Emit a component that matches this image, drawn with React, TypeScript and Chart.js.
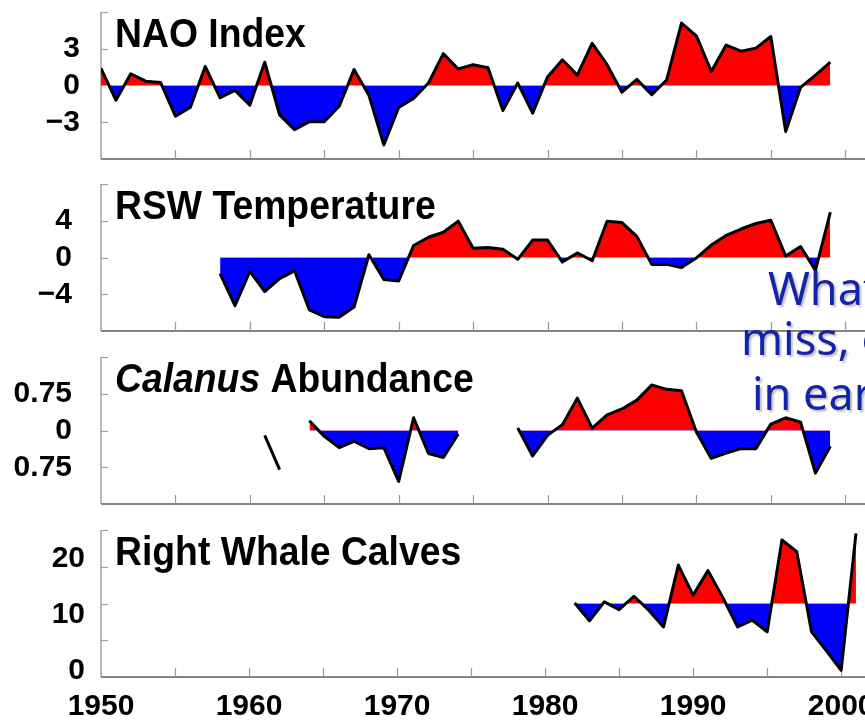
import React, { useEffect, useRef } from 'react';
import { Chart, registerables } from 'chart.js';

Chart.register(...registerables);

const _ = null;

const years = [
  1950, 1951, 1952, 1953, 1954, 1955, 1956, 1957, 1958, 1959,
  1960, 1961, 1962, 1963, 1964, 1965, 1966, 1967, 1968, 1969,
  1970, 1971, 1972, 1973, 1974, 1975, 1976, 1977, 1978, 1979,
  1980, 1981, 1982, 1983, 1984, 1985, 1986, 1987, 1988, 1989,
  1990, 1991, 1992, 1993, 1994, 1995, 1996, 1997, 1998, 1999,
  2000, 2001,
];

const naoValues = [
  1.4, -1.2, 0.95, 0.35, 0.25, -2.5, -1.8, 1.55, -1.0, -0.4,
  -1.6, 1.9, -2.4, -3.6, -2.95, -2.95, -1.7, 1.3, -0.8, -4.85,
  -1.8, -1.05, 0.2, 2.6, 1.35, 1.7, 1.45, -2.05, 0.2, -2.25,
  0.7, 2.1, 0.85, 3.45, 1.7, -0.55, 0.5, -0.75, 0.45, 5.1,
  4.05, 1.15, 3.3, 2.8, 3.05, 4.0, -3.75, -0.15, 0.85, 1.9,
  _, _,
];

const rswValues = [
  _, _, _, _, _, _, _, _, -1.75, -5.25,
  -1.5, -3.7, -2.3, -1.45, -5.7, -6.45, -6.5, -5.4, 0.3, -2.4,
  -2.55, 1.3, 2.2, 2.75, 3.95, 1.0, 1.1, 0.9, -0.2, 1.9,
  1.9, -0.5, 0.5, -0.35, 3.95, 3.8, 2.3, -0.75, -0.75, -1.1,
  -0.05, 1.35, 2.4, 3.1, 3.7, 4.05, 0.15, 1.2, -1.4, 4.95,
  _, _,
];

const calanusValues = [
  _, _, _, _, _, _, _, _, _, _,
  _, _, _, _, 0.2, -0.12, -0.35, -0.22, -0.37, -0.35,
  -1.04, 0.26, -0.47, -0.55, -0.07, _, _, _, 0.05, -0.52,
  -0.1, 0.12, 0.66, 0.05, 0.32, 0.44, 0.62, 0.93, 0.84, 0.81,
  -0.03, -0.57, -0.46, -0.37, -0.37, 0.13, 0.26, 0.17, -0.87, -0.32,
  _, _,
];

const calanusEarlyValues = [
  _, _, _, _, _, _, _, _, _, _,
  _, -0.1, -0.8, _, _, _, _, _, _, _,
  _, _, _, _, _, _, _, _, _, _,
  _, _, _, _, _, _, _, _, _, _,
  _, _, _, _, _, _, _, _, _, _,
  _, _,
];

const whaleValues = [
  _, _, _, _, _, _, _, _, _, _,
  _, _, _, _, _, _, _, _, _, _,
  _, _, _, _, _, _, _, _, _, _,
  _, _, 12.1, 8.9, 12.3, 10.9, 13.3, 10.8, 7.8, 18.9,
  13.5, 17.9, 13.1, 7.8, 9.0, 6.9, 23.4, 21.3, 6.9, 3.5,
  0, 24.6,
];

const xTickLabels = [1950, 1960, 1970, 1980, 1990, 2000];
const xTickMarks = [1955, 1960, 1965, 1970, 1975, 1980, 1985, 1990, 1995, 2000];

const naoTickLabels = [-3, 0, 3];
const naoTickText = ['\u22123', '0', '3'];
const naoTickMarks = [-3, 3, 6];

const rswTickLabels = [-4, 0, 4];
const rswTickText = ['\u22124', '0', '4'];
const rswTickMarks = [-4, 0, 4, 8];

const calanusTickLabels = [-0.75, 0, 0.75];
const calanusTickText = ['0.75', '0', '0.75'];
const calanusTickMarks = [-0.75, 0, 0.75, 1.5];

const whaleTickLabels = [0, 10, 20];
const whaleTickText = ['0', '10', '20'];
const whaleTickMarks = [5.4, 12, 18.6, 25.2];

const PAGE_H = 725;
const CANVAS_OFFSET = 50;
const CANVAS_W = 887;
const CANVAS_H = PAGE_H + CANVAS_OFFSET;
const AXIS_LEFT = 101;
const PLOT_RIGHT = 875;
const PANEL_H = 147;
const FONT = '"Liberation Sans", Arial, sans-serif';

type Panel = {
  title: string;
  italicPrefix?: string;
  values: (number | null)[];
  extra?: (number | null)[];
  baseline: number;
  min: number;
  max: number;
  tickLabels: number[];
  tickText: string[];
  tickMarks: number[];
  top: number;
  labelGap: number;
  showX: boolean;
};

const panels: Panel[] = [
  {
    title: 'NAO Index', values: naoValues, baseline: 0, min: -6, max: 6,
    tickLabels: naoTickLabels, tickText: naoTickText, tickMarks: naoTickMarks,
    top: 12, labelGap: 21, showX: false,
  },
  {
    title: 'RSW Temperature', values: rswValues, baseline: 0, min: -8, max: 8,
    tickLabels: rswTickLabels, tickText: rswTickText, tickMarks: rswTickMarks,
    top: 184, labelGap: 29, showX: false,
  },
  {
    title: 'Abundance', italicPrefix: 'Calanus ', values: calanusValues, extra: calanusEarlyValues,
    baseline: 0, min: -1.5, max: 1.5,
    tickLabels: calanusTickLabels, tickText: calanusTickText, tickMarks: calanusTickMarks,
    top: 357, labelGap: 29, showX: false,
  },
  {
    title: 'Right Whale Calves', values: whaleValues, baseline: 12, min: -1.2, max: 25.2,
    tickLabels: whaleTickLabels, tickText: whaleTickText, tickMarks: whaleTickMarks,
    top: 530, labelGap: 16, showX: true,
  },
];

const toPoints = (vals: (number | null)[]) => years.map((yr, i) => ({ x: yr, y: vals[i] }));

const panelDecor = {
  id: 'panelDecor',
  beforeDatasetsDraw(chart: any, _args: any, opts: any) {
    const ctx = chart.ctx;
    const { left, right, top, bottom } = chart.chartArea;
    const xs = chart.scales.x;
    const ys = chart.scales.y;
    ctx.save();
    ctx.lineCap = 'butt';
    ctx.strokeStyle = '#a0a0a0';
    ctx.lineWidth = 1.5;
    ctx.beginPath();
    ctx.moveTo(left, top);
    ctx.lineTo(left, bottom);
    ctx.stroke();
    ctx.lineWidth = 1.2;
    for (const v of opts.tickMarks as number[]) {
      const py = Math.round(ys.getPixelForValue(v)) + 0.5;
      ctx.beginPath();
      ctx.moveTo(left, py);
      ctx.lineTo(left + 7, py);
      ctx.stroke();
    }
    ctx.strokeStyle = '#858585';
    ctx.lineWidth = 2;
    ctx.beginPath();
    ctx.moveTo(left, bottom);
    ctx.lineTo(right, bottom);
    ctx.stroke();
    ctx.strokeStyle = '#999999';
    ctx.lineWidth = 1.2;
    for (const yr of xTickMarks) {
      const px = Math.round(xs.getPixelForValue(yr)) + 0.5;
      ctx.beginPath();
      ctx.moveTo(px, bottom);
      ctx.lineTo(px, bottom - 9);
      ctx.stroke();
    }
    ctx.restore();
  },
  afterDraw(chart: any, _args: any, opts: any) {
    const ctx = chart.ctx;
    const { left, top } = chart.chartArea;
    ctx.save();
    ctx.translate(left + 14, top + 35);
    ctx.scale(0.91, 1);
    ctx.fillStyle = '#000';
    ctx.textBaseline = 'alphabetic';
    ctx.textAlign = 'left';
    let x = 0;
    if (opts.italicPrefix) {
      ctx.font = `italic bold 41px ${FONT}`;
      ctx.fillText(opts.italicPrefix, 0, 0);
      x = ctx.measureText(opts.italicPrefix).width;
    }
    ctx.font = `bold 41px ${FONT}`;
    ctx.fillText(opts.title, x, 0);
    ctx.restore();
  },
};

function PanelChart({ p }: { p: Panel }) {
  const ref = useRef<HTMLCanvasElement>(null);
  useEffect(() => {
    if (!ref.current) return;
    const topPad = p.top + CANVAS_OFFSET;
    const bottomPad = PAGE_H - (p.top + PANEL_H);
    const datasets: any[] = [
      {
        data: toPoints(p.values),
        borderColor: '#000',
        borderWidth: 3,
        borderJoinStyle: 'round',
        pointRadius: 0,
        tension: 0,
        spanGaps: false,
        fill: { target: { value: p.baseline }, above: '#ff0000', below: '#0000ff' },
      },
    ];
    if (p.extra) {
      datasets.push({
        data: toPoints(p.extra),
        borderColor: '#000',
        borderWidth: 3,
        pointRadius: 0,
        tension: 0,
        fill: false,
      });
    }
    const chart = new Chart(ref.current, {
      type: 'line',
      data: { datasets },
      plugins: [panelDecor as any],
      options: {
        responsive: false,
        animation: false,
        events: [],
        layout: {
          padding: {
            top: topPad,
            bottom: p.showX ? 0 : bottomPad,
            left: 0,
            right: CANVAS_W - PLOT_RIGHT,
          },
        },
        plugins: {
          legend: { display: false },
          tooltip: { enabled: false },
          panelDecor: { title: p.title, italicPrefix: p.italicPrefix, tickMarks: p.tickMarks },
        } as any,
        scales: {
          x: {
            type: 'linear',
            min: 1950,
            max: 2002,
            display: p.showX,
            afterBuildTicks: (s: any) => {
              s.ticks = xTickLabels.map((v) => ({ value: v }));
            },
            afterFit: (s: any) => {
              if (p.showX) s.height = bottomPad;
            },
            grid: { display: false, drawTicks: false },
            border: { display: false },
            ticks: {
              padding: 12,
              autoSkip: false,
              maxRotation: 0,
              color: '#000',
              font: { family: FONT, size: 30, weight: 'bold' },
              callback: (v: any) => String(v),
            },
          },
          y: {
            type: 'linear',
            min: p.min,
            max: p.max,
            afterBuildTicks: (s: any) => {
              s.ticks = p.tickLabels.map((v) => ({ value: v }));
            },
            afterFit: (s: any) => {
              s.width = AXIS_LEFT;
            },
            grid: { display: false, drawTicks: false },
            border: { display: false },
            ticks: {
              padding: p.labelGap,
              color: '#000',
              font: { family: FONT, size: 30, weight: 'bold' },
              callback: (_v: any, i: number) => p.tickText[i],
            },
          },
        },
      } as any,
    });
    return () => chart.destroy();
  }, [p]);
  return (
    <canvas
      ref={ref}
      width={CANVAS_W}
      height={CANVAS_H}
      style={{ position: 'absolute', left: 0, top: -CANVAS_OFFSET, width: CANVAS_W, height: CANVAS_H }}
    />
  );
}

const noteLines = [
  { text: 'What', left: 768, top: 265 },
  { text: 'miss, e', left: 741, top: 315 },
  { text: 'in ear', left: 752, top: 370 },
];

export default function App() {
  return (
    <div
      style={{
        position: 'absolute', left: 0, top: 0, width: 865, height: PAGE_H,
        overflow: 'hidden', background: '#fff',
      }}
    >
      {panels.map((p) => (
        <PanelChart key={p.title} p={p} />
      ))}
      {noteLines.map((l) => (
        <div
          key={l.text}
          style={{
            position: 'absolute', left: l.left, top: l.top, whiteSpace: 'nowrap',
            fontFamily: '"Noto Sans", sans-serif', fontSize: 45, lineHeight: '45px',
            color: '#1424a8', textShadow: '2px 2px 2px rgba(0,0,0,0.25)',
          }}
        >
          {l.text}
        </div>
      ))}
    </div>
  );
}
